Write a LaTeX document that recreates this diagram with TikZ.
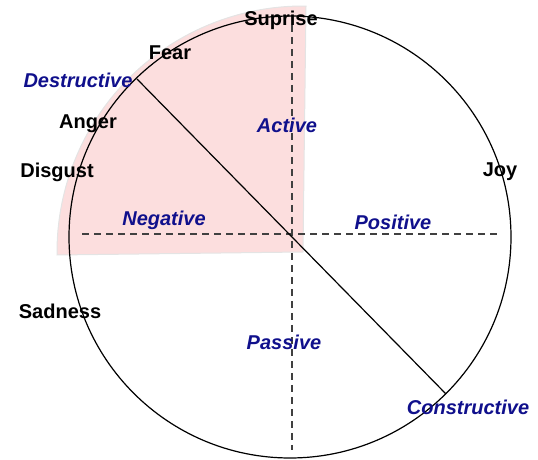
\documentclass[tikz,border=0pt]{standalone}
\usepackage{fontspec}
\setmainfont{Liberation Sans}
\definecolor{navyblue}{RGB}{16,16,140}
\definecolor{pinkfill}{RGB}{252,222,222}
\definecolor{pinkedge}{RGB}{228,228,228}
\definecolor{dashgray}{RGB}{64,64,64}
\tikzset{
  emo/.style={font=\fontsize{20}{23}\selectfont\bfseries, text=black, inner sep=0pt},
  axislbl/.style={font=\fontsize{20}{23}\selectfont\bfseries\itshape, text=navyblue, inner sep=0pt},
  axisline/.style={draw=dashgray, line width=1.6pt, dash pattern=on 7pt off 5pt},
  rim/.style={draw=black, line width=1.2pt},
}
\begin{document}
\begin{tikzpicture}[x=1pt,y=1pt]
\useasboundingbox (0,0) rectangle (538,460);
% pink sector
\coordinate (P) at (303,208);
\fill[pinkfill, draw=pinkedge, line width=1pt] (P) -- ++(89.3:246) arc[start angle=89.3, end angle=180.7, radius=246] -- cycle;
% circle
\coordinate (O) at (290,223);
\node[circle, rim, minimum size=442pt, inner sep=0pt] (ring) at (O) {};
% axes
\coordinate (Vt) at (292,435);
\coordinate (Vb) at (292,10);
\coordinate (Hl) at (82,226);
\coordinate (Hr) at (497,226);
\draw[axisline] (Vt) -- (Vb);
\draw[axisline] (Hl) -- (Hr);
% diagonal
\coordinate (D) at (137,381);
\coordinate (C) at (446,66);
\draw[black, line width=1.2pt] (D) -- (C);
% labels
\node[emo] (sup) at (281,440) {Suprise};
\node[emo] (fear) at (170,407) {Fear};
\node[emo] (anger) at (88,336) {Anger};
\node[emo] (disg) at (57,288) {Disgust};
\node[emo] (joy) at (500,288) {Joy};
\node[emo] (sad) at (60,149) {Sadness};
\node[axislbl] (destr) at (78,380) {Destructive};
\node[axislbl] (act) at (287,335) {Active};
\node[axislbl] (neg) at (164,240) {Negative};
\node[axislbl] (pos) at (393,238) {Positive};
\node[axislbl] (pas) at (284,118) {Passive};
\node[axislbl] (constr) at (468,53) {Constructive};
\end{tikzpicture}
\end{document}
